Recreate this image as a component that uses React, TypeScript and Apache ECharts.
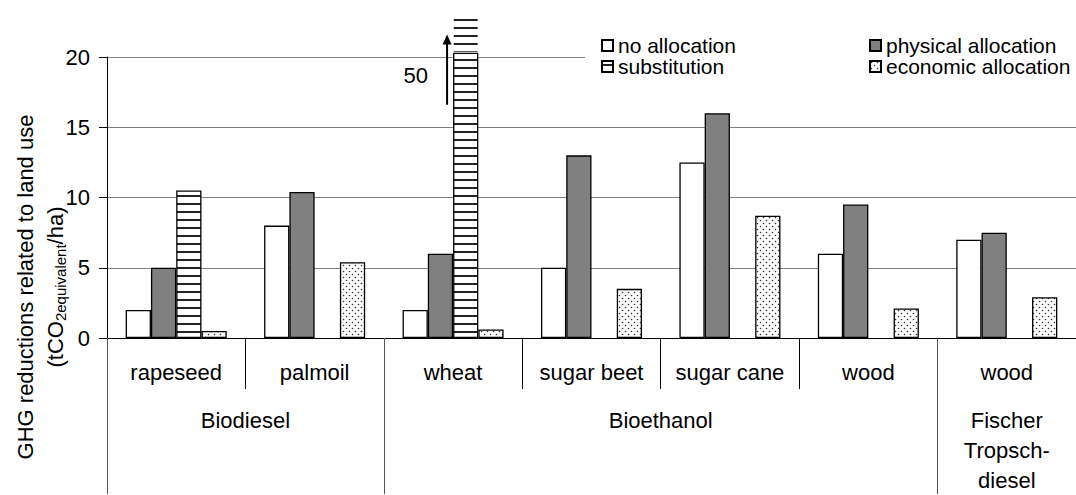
import React, { useEffect, useRef } from "react";
import * as echarts from "echarts";

// ---- data ----
const categories = ["rapeseed", "palmoil", "wheat", "sugar beet", "sugar cane", "wood", "wood"];
const groupNames = ["Biodiesel", "Bioethanol", "Fischer\nTropsch-\ndiesel"];
const groupBounds = [0, 2, 6, 7]; // category index boundaries of the groups
const seriesNames = ["no allocation", "physical allocation", "substitution", "economic allocation"];
const noAllocation = [2, 8, 2, 5, 12.5, 6, 7];
const physicalAllocation = [5, 10.4, 6, 13, 16, 9.5, 7.5];
const substitution: (number | null)[] = [10.5, null, 50, null, null, null, null];
const economicAllocation = [0.5, 5.4, 0.6, 3.5, 8.7, 2.1, 2.9];
const yTicks = [0, 5, 10, 15, 20];

const Y_MAX = 20;
const BREAK_AT = 20.3; // where the broken bar's frame stops
const EXT_TOP = 23.1; // top of the hatched continuation
const CAT_GAP = 0.27;

const FONT = '"Liberation Sans", Arial, Helvetica, sans-serif';

function makePattern(kind: "hatch" | "dots") {
  const c = document.createElement("canvas");
  const ctx = c.getContext("2d")!;
  if (kind === "hatch") {
    c.width = 8;
    c.height = 8;
    ctx.fillStyle = "#fff";
    ctx.fillRect(0, 0, 8, 8);
    ctx.fillStyle = "#222";
    ctx.fillRect(0, 3, 8, 2);
  } else {
    c.width = 6;
    c.height = 6;
    ctx.fillStyle = "#fbfbfb";
    ctx.fillRect(0, 0, 6, 6);
    ctx.fillStyle = "#333";
    ctx.beginPath();
    ctx.arc(1.5, 1.5, 0.8, 0, Math.PI * 2);
    ctx.arc(4.5, 4.5, 0.8, 0, Math.PI * 2);
    ctx.fill();
  }
  return { image: c.toDataURL(), repeat: "repeat", imageWidth: c.width, imageHeight: c.height } as any;
}

export default function App() {
  const ref = useRef<HTMLDivElement>(null);
  useEffect(() => {
    if (!ref.current) return;
    const chart = echarts.init(ref.current, null, { renderer: "svg" });
    const hatch = makePattern("hatch");
    const dots = makePattern("dots");
    const border = { borderColor: "#000", borderWidth: 1.3 };
    const seriesData = [
      noAllocation,
      physicalAllocation,
      substitution.map((v) => (v == null ? null : v > Y_MAX ? BREAK_AT : v)),
      economicAllocation,
    ];
    const fills: any[] = ["#ffffff", "#808080", hatch, dots];

    const breakData = substitution
      .map((v, i) => (v != null && v > Y_MAX ? [i, v] : null))
      .filter((d) => d != null);

    const legendBase = {
      orient: "vertical",
      top: 35,
      padding: 0,
      itemGap: 0,
      itemWidth: 11,
      itemHeight: 11,
      icon: "rect",
      selectedMode: false,
      textStyle: { fontSize: 21, lineHeight: 21, color: "#000", fontFamily: FONT },
      z: 6,
    };

    const option: any = {
      animation: false,
      backgroundColor: "#fff",
      textStyle: { fontFamily: FONT },
      grid: { left: 107, top: 57, bottom: 156, right: -8, containLabel: false },
      xAxis: [
        {
          type: "category",
          data: categories,
          position: "bottom",
          axisLine: { show: true, lineStyle: { color: "#000", width: 1 } },
          axisTick: { show: true, interval: 0, length: 51, alignWithLabel: false, lineStyle: { color: "#000" } },
          axisLabel: { interval: 0, fontSize: 22, color: "#000", margin: 23, lineHeight: 22, fontFamily: FONT },
          splitLine: { show: false },
        },
        {
          type: "value",
          min: 0,
          max: 7,
          position: "bottom",
          axisLine: { show: false },
          axisTick: { show: true, customValues: groupBounds, length: 156, lineStyle: { color: "#555" } },
          axisLabel: {
            show: true,
            customValues: groupBounds.slice(0, -1).map((b, i) => (b + groupBounds[i + 1]) / 2),
            formatter: (val: number) => {
              const i = groupBounds.findIndex((b, k) => k < groupBounds.length - 1 && (b + groupBounds[k + 1]) / 2 === val);
              return i >= 0 ? groupNames[i] : "";
            },
            fontSize: 22,
            lineHeight: 30,
            color: "#000",
            margin: 67,
            fontFamily: FONT,
          },
          splitLine: { show: false },
        },
      ],
      yAxis: {
        type: "value",
        min: 0,
        max: Y_MAX,
        interval: yTicks[1] - yTicks[0],
        axisLine: { show: true, lineStyle: { color: "#000" } },
        axisTick: { show: true, length: 8, lineStyle: { color: "#000" } },
        axisLabel: { fontSize: 22, color: "#000", margin: 17, fontFamily: FONT },
        splitLine: { show: true, lineStyle: { color: "#808080", width: 1 } },
      },
      legend: [
        { ...legendBase, data: [seriesNames[0], seriesNames[2]], left: 601 },
        { ...legendBase, data: [seriesNames[1], seriesNames[3]], left: 869 },
      ],
      graphic: [
        {
          type: "rect",
          shape: { x: 585, y: 30, width: 491, height: 46 },
          style: { fill: "#fff" },
          z: 3,
          silent: true,
        },
        {
          type: "text",
          x: 25,
          y: 287,
          rotation: Math.PI / 2,
          style: {
            text: "GHG reductions related to land use",
            font: `22px ${FONT}`,
            fill: "#000",
            align: "center",
            verticalAlign: "middle",
          },
        },
        {
          type: "text",
          x: 55,
          y: 287,
          rotation: Math.PI / 2,
          style: {
            text: "(tCO{sub|2equivalent}/ha)",
            font: `22px ${FONT}`,
            fill: "#000",
            align: "center",
            verticalAlign: "middle",
            lineHeight: 26,
            rich: {
              sub: { fontSize: 15, fontFamily: FONT, lineHeight: 15, verticalAlign: "bottom", fill: "#000" },
            },
          },
        },
      ],
      series: [
        ...seriesNames.map((name, k) => ({
          name,
          type: "bar",
          data: seriesData[k],
          barGap: "0%",
          barCategoryGap: CAT_GAP * 100 + "%",
          clip: false,
          itemStyle: { color: fills[k], ...border },
          emphasis: { disabled: true },
          z: 2,
        })),
        {
          name: "break",
          type: "custom",
          data: breakData,
          clip: false,
          z: 3,
          silent: true,
          renderItem: (params: any, api: any) => {
            const i = api.value(0);
            const v = api.value(1);
            const base = api.coord([i, BREAK_AT]);
            const top = api.coord([i, EXT_TOP]);
            const catW = api.size([1, 0])[0];
            const bw = (catW * (1 - CAT_GAP)) / 4;
            const x0 = base[0];
            const ax = x0 - 6;
            const aTop = api.coord([i, 21.6])[1];
            const aBot = api.coord([i, 16.6])[1];
            const labelY = api.coord([i, 18.7])[1];
            return {
              type: "group",
              children: [
                {
                  type: "rect",
                  shape: { x: x0 + 0.7, y: top[1], width: bw - 1.4, height: base[1] - top[1] - 1 },
                  style: { fill: hatch },
                },
                {
                  type: "line",
                  shape: { x1: ax, y1: aBot, x2: ax, y2: aTop + 8 },
                  style: { stroke: "#000", lineWidth: 2 },
                },
                {
                  type: "polygon",
                  shape: { points: [[ax, aTop], [ax - 4.5, aTop + 10], [ax + 4.5, aTop + 10]] },
                  style: { fill: "#000" },
                },
                {
                  type: "text",
                  x: x0 - 25,
                  y: labelY,
                  style: {
                    text: String(v),
                    font: `22px ${FONT}`,
                    fill: "#000",
                    align: "right",
                    verticalAlign: "middle",
                  },
                },
              ],
            };
          },
        },
      ],
    };
    chart.setOption(option);
    return () => chart.dispose();
  }, []);
  return (
    <div
      ref={ref}
      style={{ position: "absolute", left: 0, top: 0, width: 1076, height: 495, background: "#fff" }}
    />
  );
}
